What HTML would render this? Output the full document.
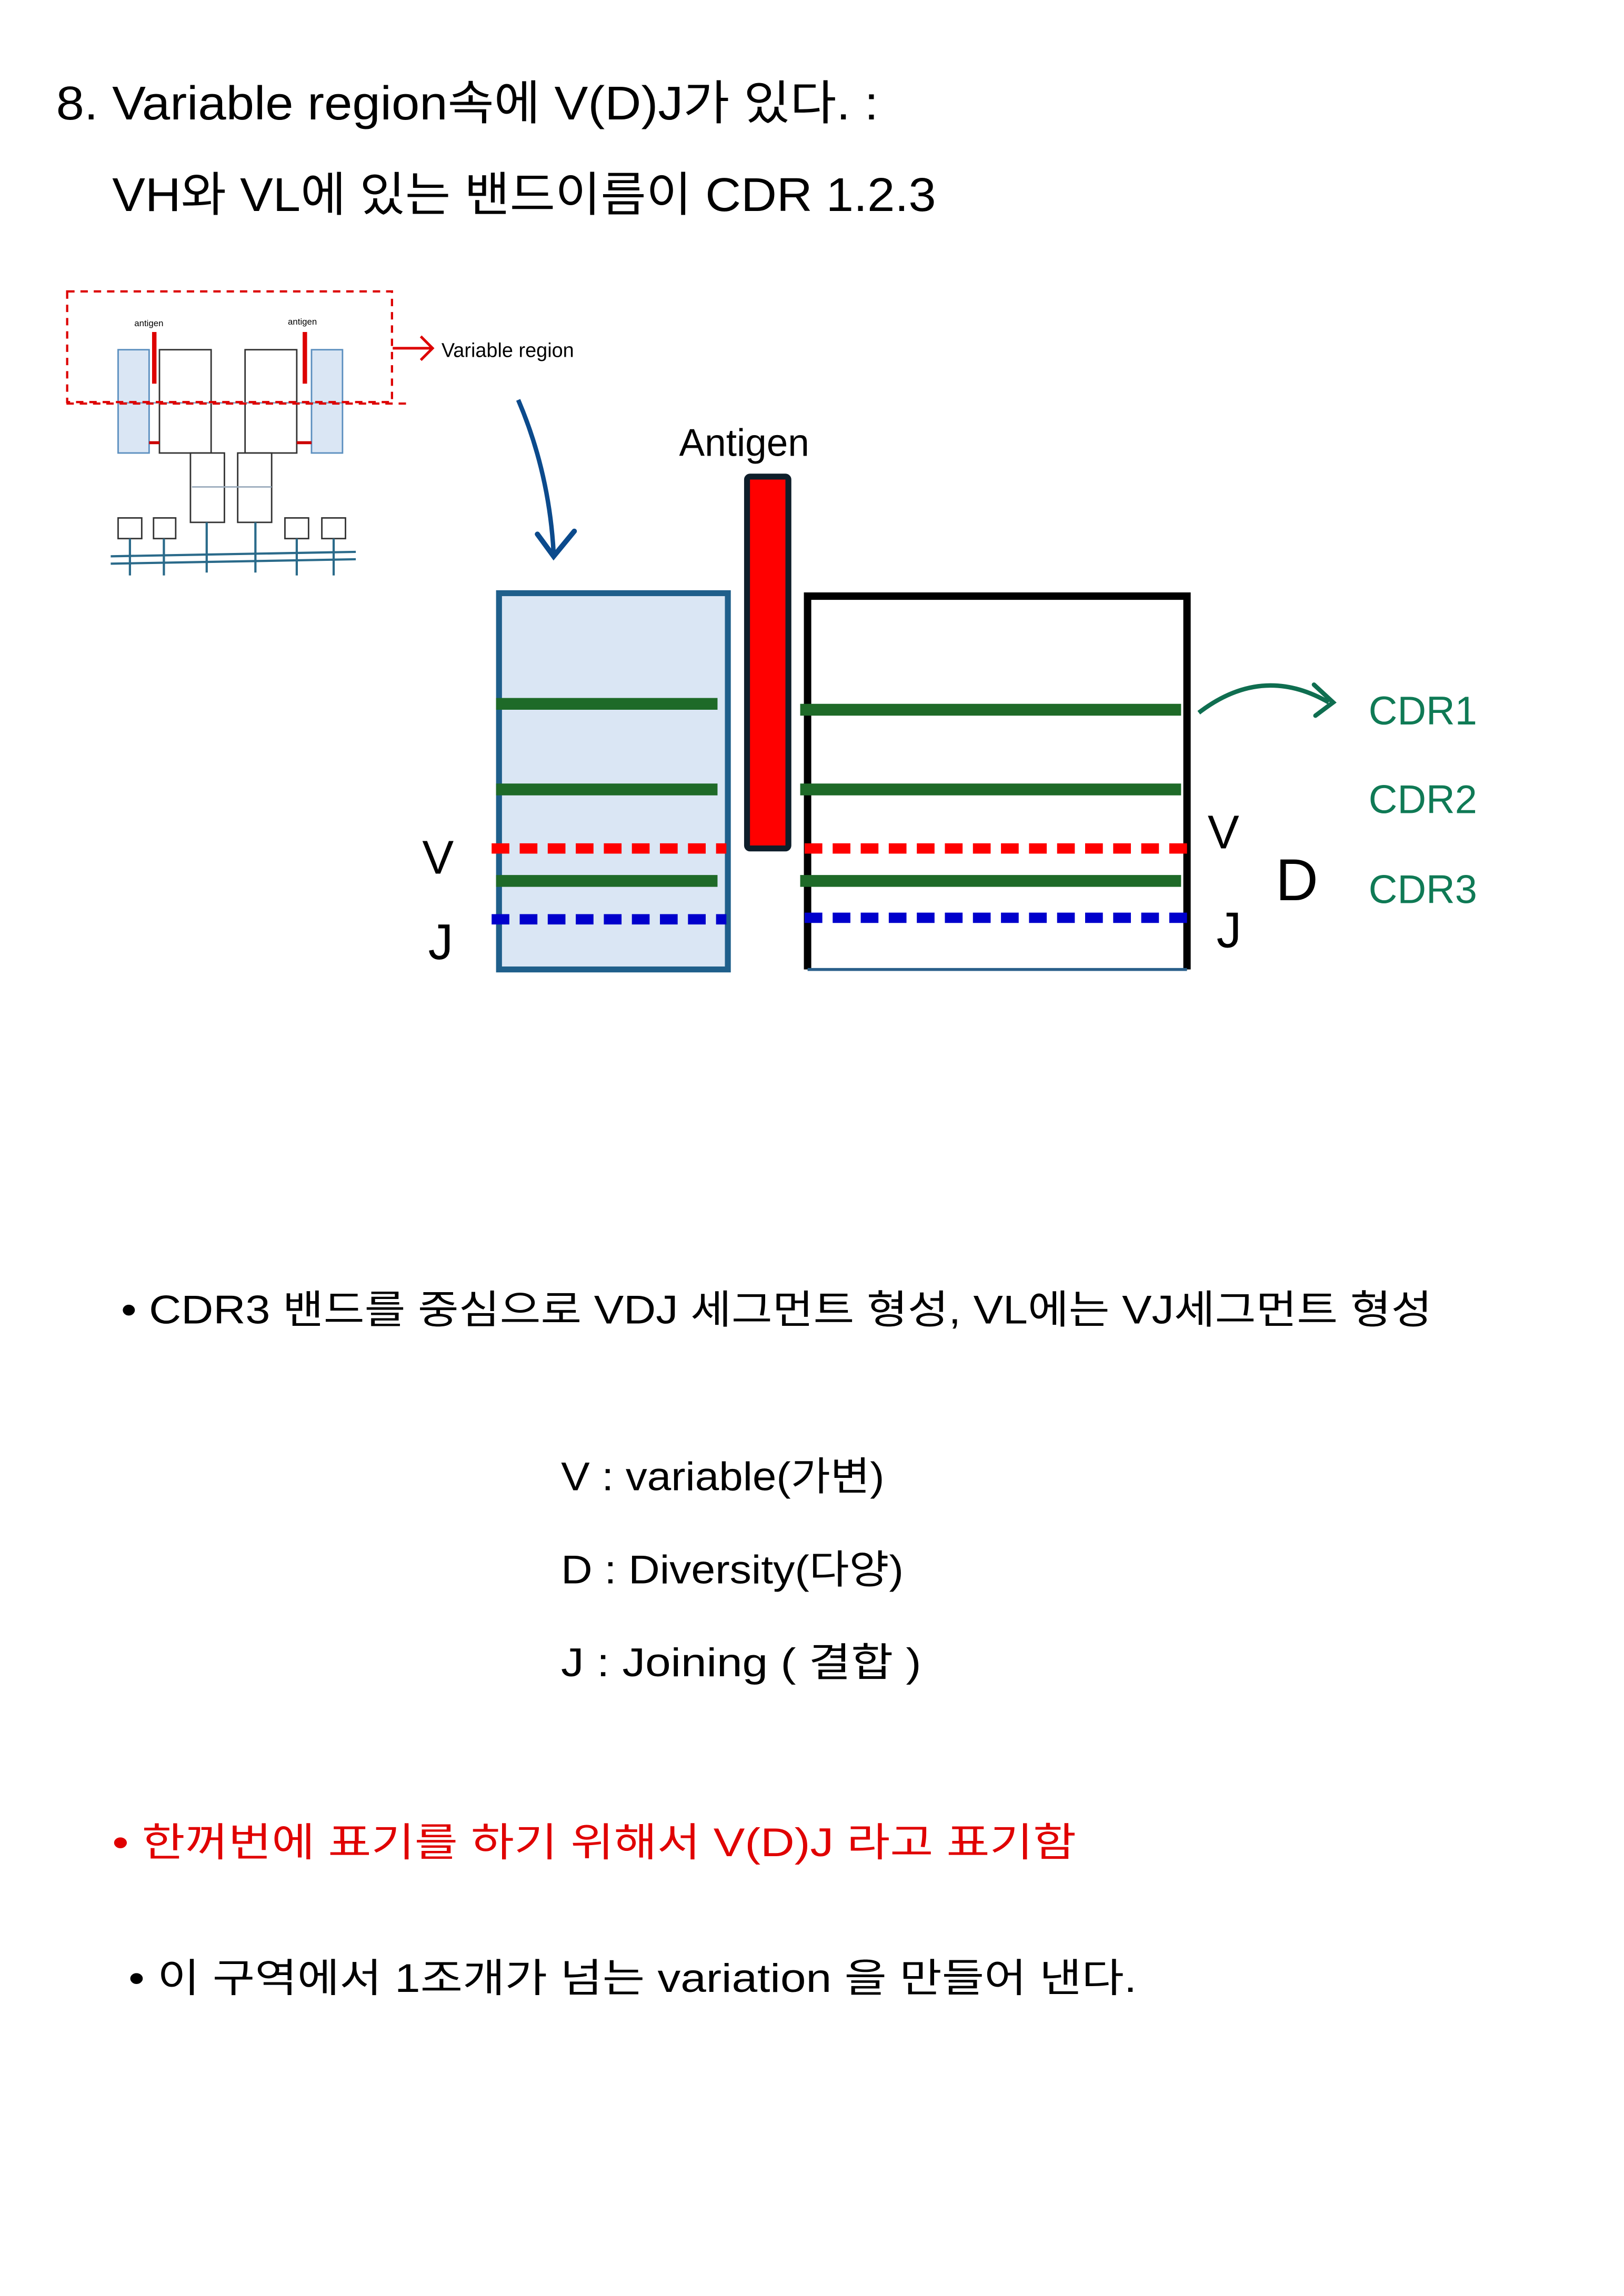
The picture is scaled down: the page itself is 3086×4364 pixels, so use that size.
<!DOCTYPE html>
<html><head><meta charset="utf-8"><style>
html,body{margin:0;padding:0;background:#fff;}
svg{display:block;}
text{font-family:"Liberation Sans","Noto Sans CJK KR",sans-serif;}
</style></head><body>
<svg width="3086" height="4364" viewBox="0 0 1100 1556" preserveAspectRatio="none" xmlns="http://www.w3.org/2000/svg">
<rect width="1100" height="1556" fill="#fff"/>
<text x="38" y="81" font-size="32" textLength="557" lengthAdjust="spacingAndGlyphs">8. Variable region속에  V(D)J가 있다. :</text>
<text x="76" y="143" font-size="32" textLength="558" lengthAdjust="spacingAndGlyphs">VH와 VL에 있는 밴드이름이 CDR 1.2.3</text>

<!-- small antibody diagram -->
<g stroke-width="1">
<rect x="80" y="237" width="21" height="70" fill="#dae6f4" stroke="#5b8fbf"/>
<rect x="211" y="237" width="21" height="70" fill="#dae6f4" stroke="#5b8fbf"/>
<rect x="108" y="237" width="35" height="70" fill="#fff" stroke="#333"/>
<rect x="166" y="237" width="35" height="70" fill="#fff" stroke="#333"/>
<rect x="129" y="307" width="23" height="47" fill="#fff" stroke="#333"/>
<rect x="161" y="307" width="23" height="47" fill="#fff" stroke="#333"/>
<line x1="80" y1="273" x2="232" y2="273" stroke="#7fa6c4"/>
<line x1="130" y1="330" x2="184" y2="330" stroke="#9ab"/>
<rect x="80" y="351" width="16" height="14" fill="#fff" stroke="#333"/>
<rect x="104" y="351" width="15" height="14" fill="#fff" stroke="#333"/>
<rect x="193" y="351" width="16" height="14" fill="#fff" stroke="#333"/>
<rect x="218" y="351" width="16" height="14" fill="#fff" stroke="#333"/>
<g stroke="#2a6a8a" stroke-width="1.5">
<line x1="75" y1="377" x2="241" y2="374"/>
<line x1="75" y1="382" x2="241" y2="379"/>
<line x1="88" y1="365" x2="88" y2="390"/>
<line x1="111" y1="365" x2="111" y2="390"/>
<line x1="140" y1="354" x2="140" y2="388"/>
<line x1="173" y1="354" x2="173" y2="388"/>
<line x1="201" y1="365" x2="201" y2="390"/>
<line x1="226" y1="365" x2="226" y2="390"/>
</g>
<line x1="101" y1="300" x2="108" y2="300" stroke="#c00" stroke-width="2"/>
<line x1="201" y1="300" x2="211" y2="300" stroke="#c00" stroke-width="2"/>
<rect x="103" y="225" width="3" height="35" fill="#d00"/>
<rect x="205" y="225" width="3" height="35" fill="#d00"/>
<text x="91" y="221" font-size="6">antigen</text>
<text x="195" y="220" font-size="6">antigen</text>
<rect x="45.5" y="197.5" width="220" height="75" fill="none" stroke="#d00" stroke-width="1.5" stroke-dasharray="5 4"/>
<line x1="45" y1="273.5" x2="276" y2="273.5" stroke="#d00" stroke-width="1.5" stroke-dasharray="5 4"/>
<path d="M266 236 H292 M285 228 L293 236 L285 244" fill="none" stroke="#d00" stroke-width="1.8"/>
<text x="299" y="242" font-size="13.5">Variable region</text>
</g>

<!-- blue arrow -->
<path d="M351 271 Q372 320 375 375" fill="none" stroke="#0b4a8c" stroke-width="3"/>
<path d="M364 362 L375 377 L389 360" fill="none" stroke="#0b4a8c" stroke-width="3.5" stroke-linecap="round"/>

<text x="460" y="309" font-size="26">Antigen</text>

<!-- left box -->
<rect x="338" y="402" width="155" height="255" fill="#dae6f4" stroke="#1f5f8b" stroke-width="4"/>
<!-- right box -->
<path d="M547 657 V404 H804 V657" fill="none" stroke="#000" stroke-width="5"/>
<line x1="547" y1="657" x2="804" y2="657" stroke="#2a5f8a" stroke-width="2"/>
<!-- antigen bar -->
<rect x="506" y="323" width="28" height="252" rx="2" fill="#ff0000" stroke="#0e1e2a" stroke-width="4"/>

<g stroke="#1e6a28" stroke-width="8">
<line x1="336" y1="477" x2="486" y2="477"/>
<line x1="336" y1="535" x2="486" y2="535"/>
<line x1="336" y1="597" x2="486" y2="597"/>
<line x1="542" y1="481" x2="800" y2="481"/>
<line x1="542" y1="535" x2="800" y2="535"/>
<line x1="542" y1="597" x2="800" y2="597"/>
</g>
<g stroke-width="7" stroke-dasharray="12 7">
<line x1="333" y1="575" x2="492" y2="575" stroke="#ff0000"/>
<line x1="545" y1="575" x2="805" y2="575" stroke="#ff0000"/>
<line x1="333" y1="623" x2="492" y2="623" stroke="#0000cc"/>
<line x1="545" y1="622" x2="805" y2="622" stroke="#0000cc"/>
</g>

<text x="286" y="592" font-size="32">V</text>
<text x="290" y="650" font-size="34">J</text>
<text x="818" y="575" font-size="32">V</text>
<text x="824" y="642" font-size="34">J</text>
<text x="864" y="610" font-size="40">D</text>

<path d="M812 483 Q855 450 900 476" fill="none" stroke="#0f6e50" stroke-width="3"/>
<path d="M890 464 L903 476 L891 485" fill="none" stroke="#0f6e50" stroke-width="3" stroke-linecap="round"/>
<g fill="#0f7a55" font-size="27">
<text x="927" y="491">CDR1</text>
<text x="927" y="551">CDR2</text>
<text x="927" y="612">CDR3</text>
</g>

<g font-size="27">
<text x="82" y="897" textLength="888" lengthAdjust="spacingAndGlyphs">• CDR3 밴드를 중심으로 VDJ 세그먼트 형성, VL에는 VJ세그먼트 형성</text>
<text x="380" y="1010" textLength="219" lengthAdjust="spacingAndGlyphs">V : variable(가변)</text>
<text x="380" y="1073" textLength="232" lengthAdjust="spacingAndGlyphs">D : Diversity(다양)</text>
<text x="380" y="1136" textLength="244" lengthAdjust="spacingAndGlyphs">J  : Joining ( 결합 )</text>
<text x="76" y="1258" fill="#e00000" textLength="653" lengthAdjust="spacingAndGlyphs">•  한꺼번에 표기를 하기 위해서 V(D)J  라고 표기함</text>
<text x="87" y="1350" textLength="683" lengthAdjust="spacingAndGlyphs">• 이 구역에서 1조개가 넘는 variation 을 만들어 낸다.</text>
</g>
</svg>
</body></html>
